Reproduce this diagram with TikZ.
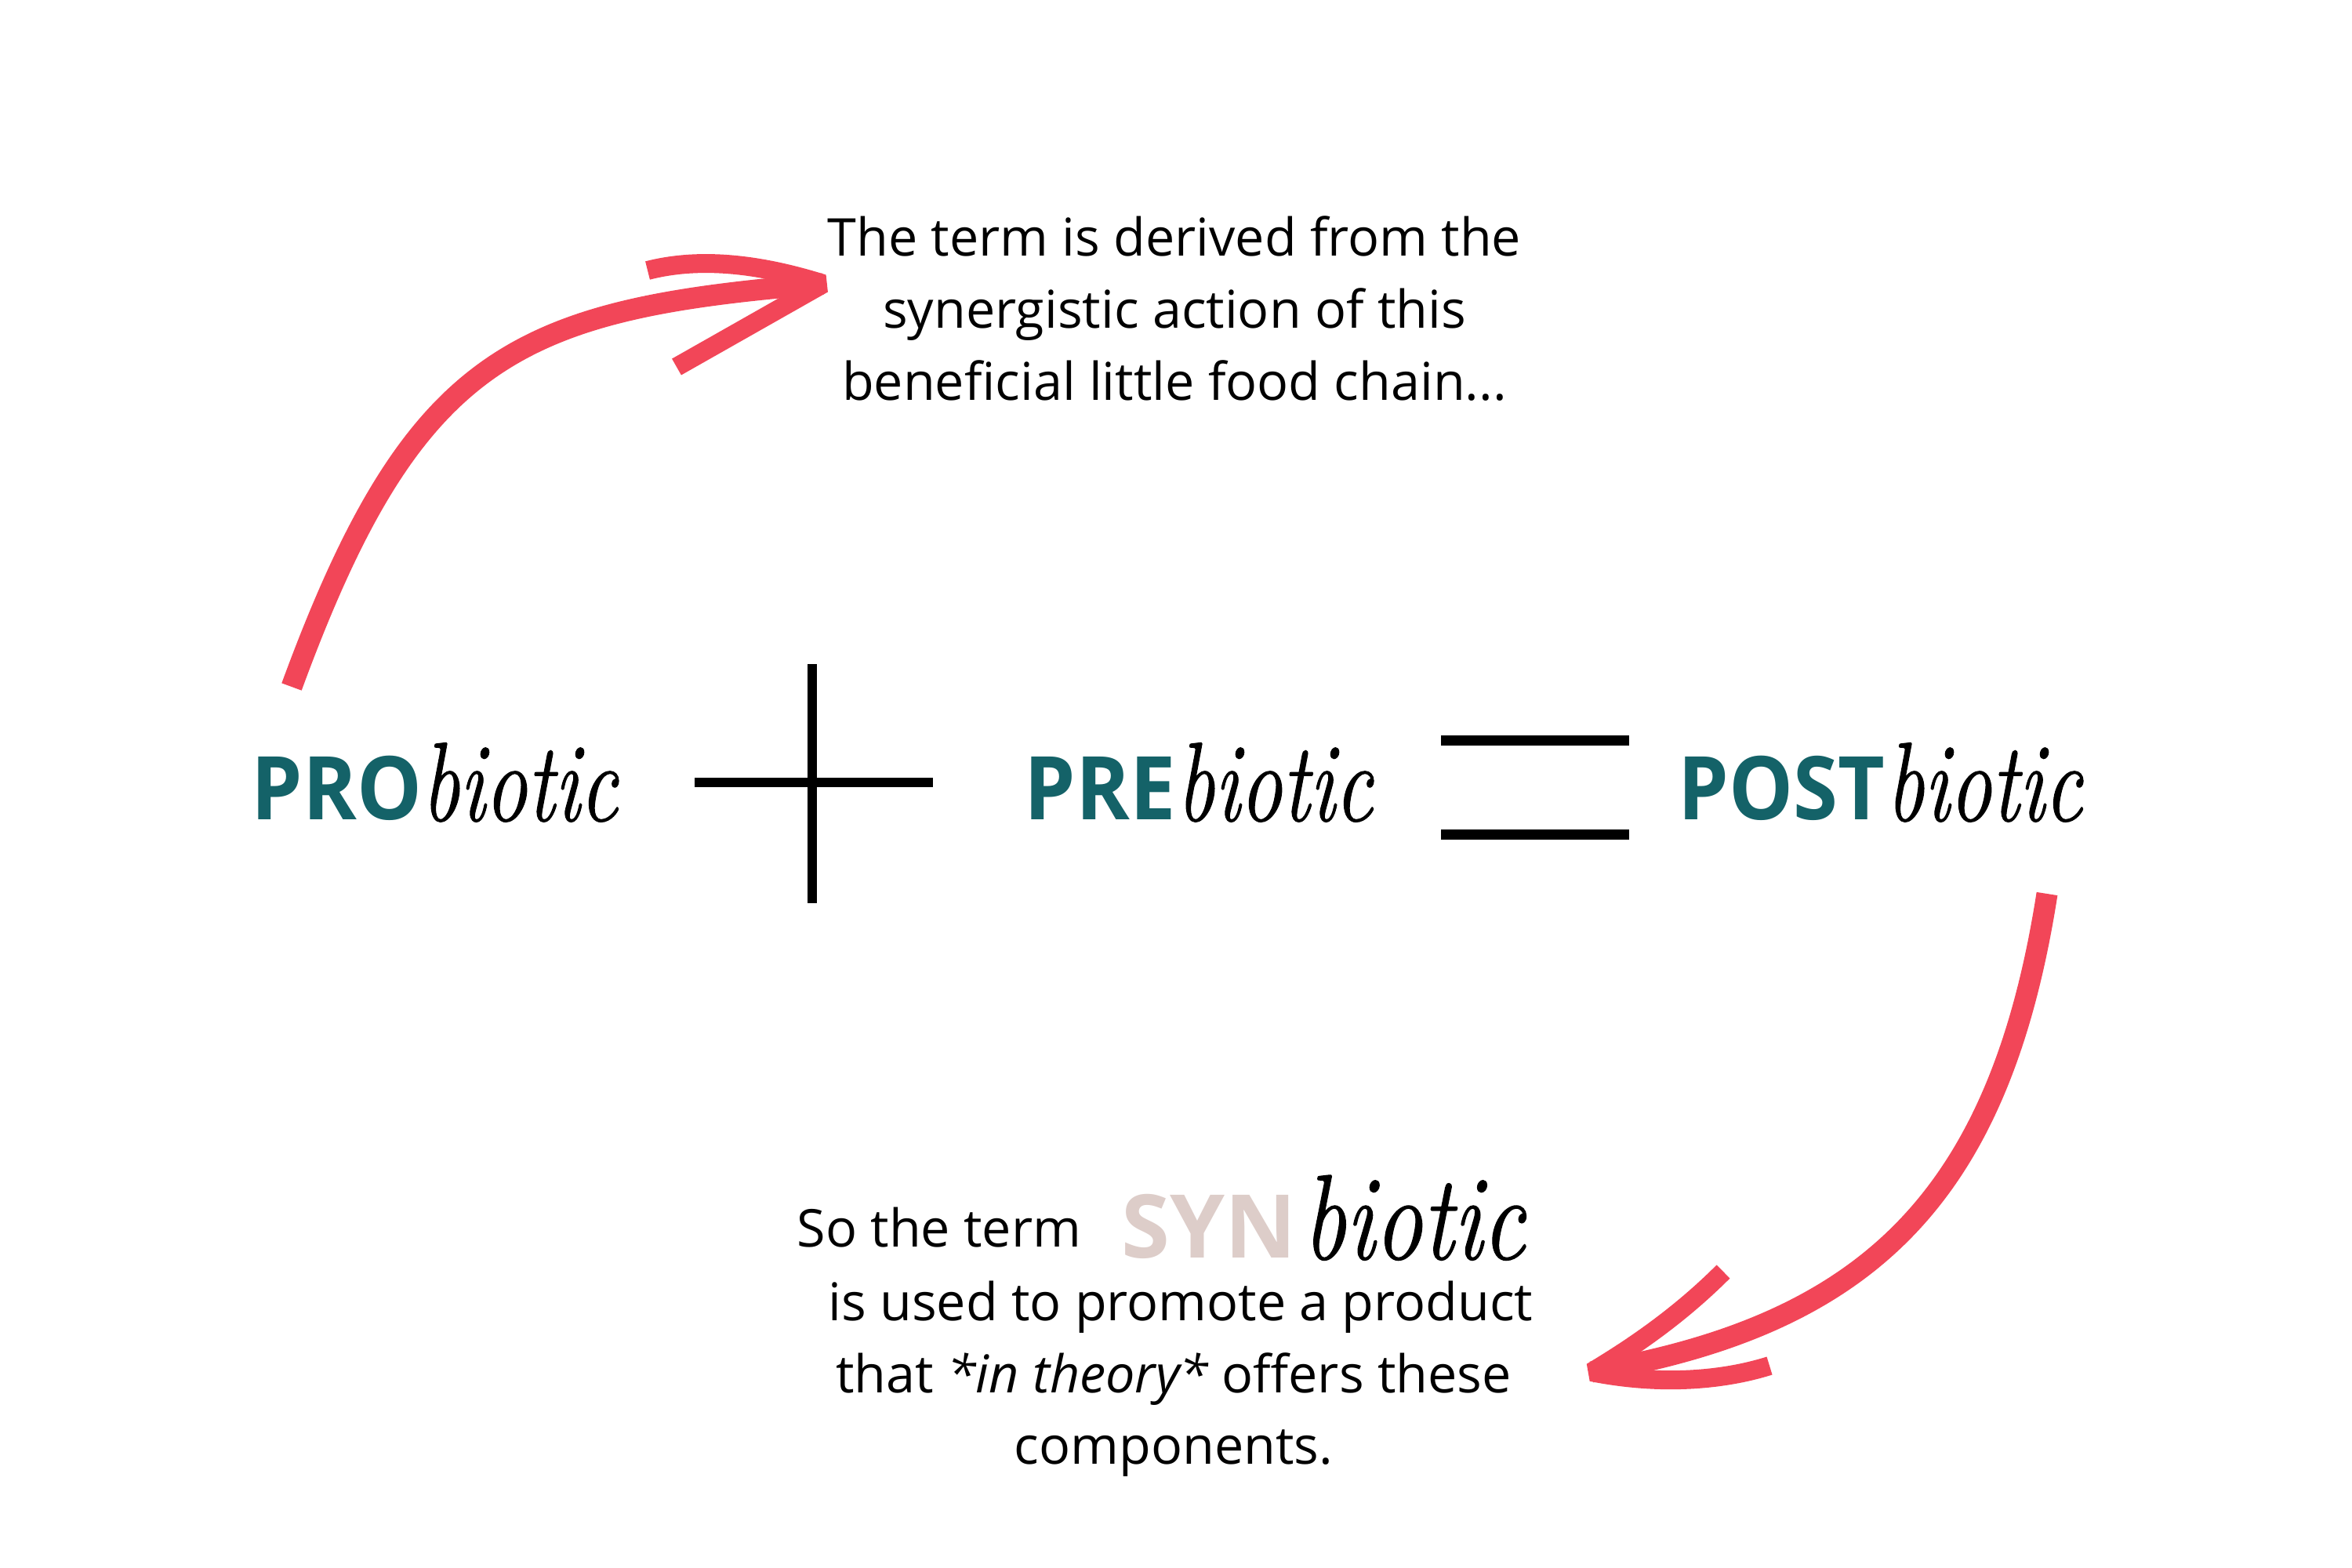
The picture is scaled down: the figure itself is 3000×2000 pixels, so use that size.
\documentclass[tikz,border=0pt]{standalone}
\usepackage{fontspec}
\setsansfont{Open Sans}
\newfontfamily\biofont{Latin Modern Roman}[ItalicFeatures={FakeBold=0.9}]
\usepackage{graphicx}
\definecolor{tealdark}{RGB}{20,98,104}
\definecolor{arrowred}{RGB}{242,70,88}
\definecolor{synpink}{RGB}{221,205,201}
\tikzset{
  bodytext/.style={inner sep=0pt, anchor=base, font=\sffamily\fontsize{18.9pt}{26pt}\selectfont},
  pfxtext/.style={inner sep=0pt, anchor=base west, text=tealdark, font=\sffamily\bfseries\fontsize{31.9pt}{36pt}\selectfont},
  biotext/.style={inner sep=0pt, anchor=base west, font=\biofont\itshape\fontsize{40.8pt}{44pt}\selectfont},
  opline/.style={line width=0.12cm, black},
  redshaft/.style={draw=arrowred, line width=0.27cm, line cap=butt},
  redbarb/.style={draw=arrowred, line width=0.24cm, line cap=butt, line join=bevel},
}
\begin{document}
\begin{tikzpicture}[x=0.01cm, y=-0.01cm]
\fill[white] (0,0) rectangle (3000,2000);
\useasboundingbox (0,0) rectangle (3000,2000);

% top text
\node[bodytext] (t1) at (1498,327) {The term is derived from the};
\node[bodytext] (t2) at (1498,418) {synergistic action of this};
\node[bodytext] (t3) at (1498,510) {beneficial little food chain...};

% main row
\node[pfxtext] (pro) at (320,1045) {\scalebox{0.93}[1]{PRO}};
\node[biotext] (probio) at (537,1047) {\scalebox{0.75}[1]{biotic}};
\node[pfxtext] (pre) at (1306,1045) {\scalebox{0.93}[1]{PRE}};
\node[biotext] (prebio) at (1500,1047) {\scalebox{0.75}[1]{biotic}};
\node[pfxtext] (post) at (2140,1045) {\scalebox{0.92}[1]{POST}};
\node[biotext] (postbio) at (2405,1047) {\scalebox{0.75}[1]{biotic}};

% plus
\coordinate (plusL) at (886,998);
\coordinate (plusR) at (1190,998);
\coordinate (plusT) at (1036,847);
\coordinate (plusB) at (1036,1152);
\draw[opline] (plusL) -- (plusR);
\draw[opline] (plusT) -- (plusB);

% equals
\coordinate (eq1L) at (1838,944);
\coordinate (eq1R) at (2078,944);
\coordinate (eq2L) at (1838,1064);
\coordinate (eq2R) at (2078,1064);
\draw[line width=0.13cm] (eq1L) -- (eq1R);
\draw[line width=0.13cm] (eq2L) -- (eq2R);

% bottom text
\node[bodytext, anchor=base west] (so) at (1016,1590) {So the term};
\node[pfxtext, text=synpink] (syn) at (1430,1604) {SYN};
\node[biotext, font=\biofont\itshape\fontsize{43.9pt}{48pt}\selectfont] (synbio) at (1661,1606) {\scalebox{0.79}[1]{biotic}};
\node[bodytext] (b2) at (1506,1684) {is used to promote a product};
\node[bodytext] (b3) at (1497,1776) {that {\itshape *in theory*} offers these};
\node[bodytext] (b4) at (1497,1867) {components.};

% top arrow
\coordinate (a1s) at (372,876);
\coordinate (a1t) at (1050,362);
\coordinate (a1u) at (826,345);
\coordinate (a1l) at (863,468);
\draw[redshaft] (a1s) .. controls (529,448) and (662,394) .. (a1t);
\draw[redbarb] (a1u) .. controls (900,326) and (980,340) .. (a1t) -- (a1l);

% bottom arrow
\coordinate (a2s) at (2611,1140);
\coordinate (a2t) at (2030,1750);
\coordinate (a2u) at (2198,1622);
\coordinate (a2l) at (2257,1742);
\draw[redshaft] (a2s) .. controls (2550,1530) and (2380,1690) .. (a2t);
\draw[redbarb] (a2u) .. controls (2140,1680) and (2080,1720) .. (a2t) .. controls (2120,1768) and (2200,1760) .. (a2l);
\end{tikzpicture}
\end{document}
